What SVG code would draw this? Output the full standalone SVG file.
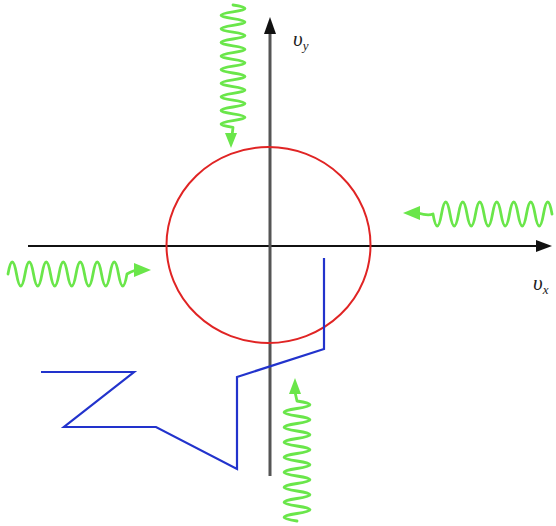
<svg xmlns="http://www.w3.org/2000/svg" width="556" height="526" viewBox="0 0 556 526">
<style>
.wave{fill:none;stroke:#6ae64a;stroke-width:2.8;stroke-linecap:round;stroke-linejoin:round}
.ah{fill:#6ae64a}
.lbl{font-family:"Liberation Serif",serif;font-style:italic;fill:#222}
</style>
<rect width="556" height="526" fill="#fff"/>
<g id="axes">
<line x1="28" y1="246" x2="538" y2="246" stroke="#111" stroke-width="2.2"/>
<polygon points="552,246 536,240 536,252" fill="#111"/>
<line x1="270" y1="476" x2="270" y2="30" stroke="#555" stroke-width="3"/>
<polygon points="270,17 264,34 276,34" fill="#111"/>
</g>
<g id="circle">
<ellipse cx="268.5" cy="245" rx="102" ry="98" fill="none" stroke="#e02424" stroke-width="2"/>
</g>
<g id="path">
<polyline points="41,372 134,372 64,427 156,427 237,469 237,377 324,349 324,258" fill="none" stroke="#2233cc" stroke-width="2.2" stroke-linejoin="miter"/>
</g>
<g id="wave-top">
<path class="wave" d="M233 5 q24 3.4 0 6.8 t0 6.8 t0 6.8 t0 6.8 t0 6.8 t0 6.8 t0 6.8 t0 6.8 t0 6.8 t0 6.8 t0 6.8 t0 6.8 t0 6.8 t0 6.8 t0 6.8 t0 6.8 t0 6.8 t0 6.8 L232 136"/>
<polygon class="ah" points="231,148 225,133 237,133"/>
</g>
<g id="wave-right">
<path class="wave" d="M552 214 q-4.25 -24 -8.5 0 t-8.5 0 t-8.5 0 t-8.5 0 t-8.5 0 t-8.5 0 t-8.5 0 t-8.5 0 t-8.5 0 t-8.5 0 t-8.5 0 t-8.5 0 t-8.5 0 t-8.5 0 Q428 216 418 213"/>
<polygon class="ah" points="403,213 420,206 420,220"/>
</g>
<g id="wave-left">
<path class="wave" d="M8 274 q4.25 -24 8.5 0 t8.5 0 t8.5 0 t8.5 0 t8.5 0 t8.5 0 t8.5 0 t8.5 0 t8.5 0 t8.5 0 t8.5 0 t8.5 0 t8.5 0 t8.5 0 Q130 272 136 270"/>
<polygon class="ah" points="151,270 134,263 134,277"/>
</g>
<g id="wave-bottom">
<path class="wave" d="M297 521 q-26 -3.75 0 -7.5 t0 -7.5 t0 -7.5 t0 -7.5 t0 -7.5 t0 -7.5 t0 -7.5 t0 -7.5 t0 -7.5 t0 -7.5 t0 -7.5 t0 -7.5 t0 -7.5 t0 -7.5 t0 -7.5 t0 -7.5 L295 392"/>
<polygon class="ah" points="295,378 289,394 301,394"/>
</g>
<g id="labels">
<text class="lbl" x="293" y="46" font-size="21">υ<tspan font-size="13" dy="4">y</tspan></text>
<text class="lbl" x="533" y="290" font-size="21">υ<tspan font-size="13" dy="4">x</tspan></text>
</g>
</svg>
